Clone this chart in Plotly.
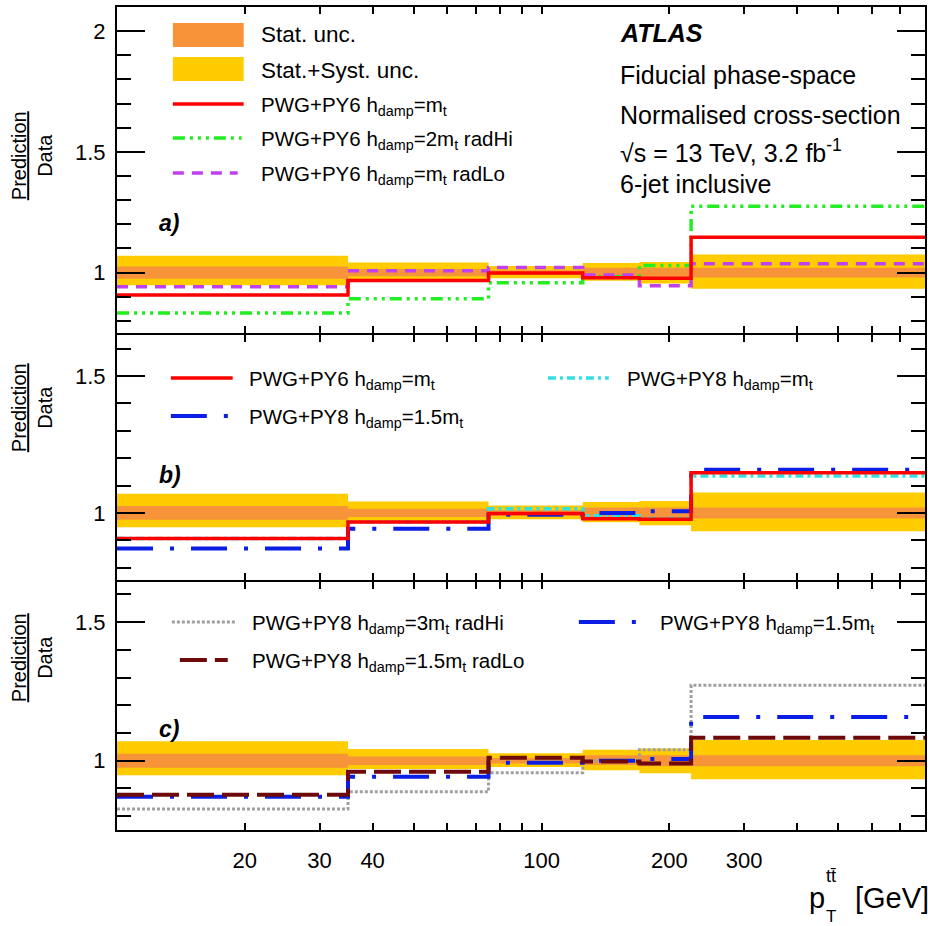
import plotly.graph_objects as go
import math

# ---------------- data ----------------
bin_edges = [10, 35, 75, 125, 170, 225, 800]

stat_lo = [0.975, 0.985, 0.990, 0.985, 0.980, 0.980]
stat_hi = [1.025, 1.015, 1.010, 1.020, 1.020, 1.020]
syst_lo = [0.948, 0.970, 0.977, 0.966, 0.955, 0.933]
syst_hi = [1.070, 1.042, 1.027, 1.040, 1.044, 1.075]

pwg_py6_mt = [0.907, 0.967, 0.998, 0.979, 0.977, 1.147]
pwg_py6_2mt_radhi = [0.833, 0.892, 0.958, 0.983, 1.030, 1.275]
pwg_py6_mt_radlo = [0.942, 1.008, 1.021, 0.990, 0.946, 1.037]
pwg_py8_15mt = [0.870, 0.942, 0.993, 1.000, 1.006, 1.158]
pwg_py8_mt = [0.907, 0.967, 1.015, 0.990, 0.980, 1.135]
pwg_py8_3mt_radhi = [0.826, 0.888, 0.957, 1.000, 1.040, 1.272]
pwg_py8_15mt_radlo = [0.877, 0.960, 1.011, 0.997, 0.990, 1.083]

x_tick_vals = [20, 30, 40, 100, 200, 300]
x_tick_text = ["20", "30", "40", "100", "200", "300"]
x_minor_vals = [50, 60, 70, 80, 90, 400, 500, 600, 700, 800]

# ---------------- styles ----------------
FONT = "Liberation Sans, Arial, Helvetica, sans-serif"
C_STAT = "#F7943A"
C_SYST = "#FFCC00"
RED = "#FF0000"
GREEN = "#22EE22"
PURPLE = "#C040F0"
BLUE = "#0A1EE6"
CYAN = "#33E0E0"
GREY = "#A0A0A0"
DRED = "#6E0A0A"

D_GREEN = "12px,5px,3px,5px,3px,5px,3px,5px"
D_PURPLE = "11px,8px"
D_BLUE = "36px,17px,4px,17px"
D_CYAN = "8px,4px,3px,4px"
D_GREY = "3px,2px"
D_DRED = "27px,8px"

W, H = 928, 926
L, R, T, B = 117, 927, 7, 830

def px(x):
    return (x - L) / (R - L)

def py(y):
    return (B - y) / (B - T)

dom_c = [0, py(582)]
dom_b = [py(580), py(335)]
dom_a = [py(333), 1]

fig = go.Figure()


def step_xy(vals):
    xs = list(bin_edges[:-1]) + [bin_edges[-1]]
    ys = list(vals) + [vals[-1]]
    return xs, ys


def band_poly(lo, hi):
    xs, ys = [], []
    for i in range(len(hi)):
        xs += [bin_edges[i], bin_edges[i + 1]]
        ys += [hi[i], hi[i]]
    for i in reversed(range(len(lo))):
        xs += [bin_edges[i + 1], bin_edges[i]]
        ys += [lo[i], lo[i]]
    return xs, ys


def add_bands(xa, ya):
    for lo, hi, col in ((syst_lo, syst_hi, C_SYST), (stat_lo, stat_hi, C_STAT)):
        bx, by = band_poly(lo, hi)
        fig.add_trace(go.Scatter(x=bx, y=by, fill="toself", fillcolor=col,
                                 line=dict(width=0), mode="lines",
                                 xaxis=xa, yaxis=ya, showlegend=False,
                                 hoverinfo="skip"))


def add_line(vals, color, dash, width, xa, ya):
    sx, sy = step_xy(vals)
    fig.add_trace(go.Scatter(x=sx, y=sy, mode="lines", line_shape="hv",
                             line=dict(color=color, dash=dash, width=width),
                             xaxis=xa, yaxis=ya, showlegend=False))


# panel a
add_bands("x", "y")
add_line(pwg_py6_2mt_radhi, GREEN, D_GREEN, 3.5, "x", "y")
add_line(pwg_py6_mt_radlo, PURPLE, D_PURPLE, 3.5, "x", "y")
add_line(pwg_py6_mt, RED, "solid", 3.5, "x", "y")
# panel b
add_bands("x2", "y2")
add_line(pwg_py8_mt, CYAN, D_CYAN, 3.5, "x2", "y2")
add_line(pwg_py8_15mt, BLUE, D_BLUE, 4, "x2", "y2")
add_line(pwg_py6_mt, RED, "solid", 3.5, "x2", "y2")
# panel c
add_bands("x3", "y3")
add_line(pwg_py8_3mt_radhi, GREY, D_GREY, 3, "x3", "y3")
add_line(pwg_py8_15mt, BLUE, D_BLUE, 4, "x3", "y3")
add_line(pwg_py8_15mt_radlo, DRED, D_DRED, 4, "x3", "y3")

xr = [math.log10(bin_edges[0]), math.log10(bin_edges[-1])]

def xaxis_def(anchor, show_labels):
    return dict(type="log", range=xr, anchor=anchor, domain=[0, 1],
                showline=True, linecolor="black", linewidth=2, mirror="allticks",
                ticks="inside", ticklen=7, tickwidth=1.5, tickcolor="black",
                tickvals=x_tick_vals, ticktext=x_tick_text,
                showticklabels=show_labels, ticklabelstandoff=10,
                tickfont=dict(family=FONT, size=22, color="black"),
                minor=dict(tickvals=x_minor_vals, ticks="inside", ticklen=7,
                           tickwidth=1.5, tickcolor="black", showgrid=False),
                showgrid=False, zeroline=False, fixedrange=True)

def long_tick_axis(over, anchor):
    return dict(type="log", range=xr, overlaying=over, anchor=anchor,
                showline=False, mirror="allticks", ticks="inside", ticklen=13,
                tickwidth=1.5, tickcolor="black", tickvals=[100],
                showticklabels=False, showgrid=False, zeroline=False)

def yaxis_def(rng, dom, anchor, vals, texts):
    minor_vals = [round(0.8 + 0.1 * i, 2) for i in range(14)]
    minor_vals = [v for v in minor_vals if rng[0] < v < rng[1] and v not in vals]
    return dict(range=rng, domain=dom, anchor=anchor,
                showline=True, linecolor="black", linewidth=2, mirror="allticks",
                ticks="inside", ticklen=28, tickwidth=1.5, tickcolor="black",
                tickvals=vals, ticktext=texts, ticklabelstandoff=5,
                tickfont=dict(family=FONT, size=22, color="black"),
                minor=dict(tickvals=minor_vals, ticks="inside", ticklen=14,
                           tickwidth=1.5, tickcolor="black", showgrid=False),
                showgrid=False, zeroline=False, fixedrange=True)

fig.update_layout(
    width=W, height=H,
    margin=dict(l=L, r=W - R, t=T, b=H - B),
    paper_bgcolor="white", plot_bgcolor="white",
    showlegend=False,
    xaxis=xaxis_def("y", False),
    xaxis2=xaxis_def("y2", False),
    xaxis3=xaxis_def("y3", True),
    xaxis4=long_tick_axis("x", "y"),
    xaxis5=long_tick_axis("x2", "y2"),
    xaxis6=long_tick_axis("x3", "y3"),
    yaxis=yaxis_def([0.75, 2.1], dom_a, "x", [1, 1.5, 2], ["1", "1.5", "2"]),
    yaxis2=yaxis_def([0.755, 1.65], dom_b, "x2", [1, 1.5], ["1", "1.5"]),
    yaxis3=yaxis_def([0.75, 1.645], dom_c, "x3", [1, 1.5], ["1", "1.5"]),
)

shapes = []
annots = []

def ann(text, x, y, size=22, xanchor="left", yanchor="middle", **kw):
    annots.append(dict(text=text, x=px(x), y=py(y), xref="paper", yref="paper",
                       xanchor=xanchor, yanchor=yanchor, showarrow=False,
                       font=dict(family=FONT, size=size, color="black"), **kw))

def leg_line(x0, x1, y, color, dash, width=3.5):
    shapes.append(dict(type="line", xref="paper", yref="paper",
                       x0=px(x0), x1=px(x1), y0=py(y), y1=py(y),
                       line=dict(color=color, dash=dash, width=width)))

def leg_rect(x0, x1, y0, y1, color):
    shapes.append(dict(type="rect", xref="paper", yref="paper",
                       x0=px(x0), x1=px(x1), y0=py(y1), y1=py(y0),
                       fillcolor=color, line=dict(width=0)))

HD = "h<sub>damp</sub>"
MT = "m<sub>t</sub>"
LS = 20.5  # legend text size

# panel a legend
leg_rect(173, 244, 23, 47, C_STAT)
ann("Stat. unc.", 259, 35, size=22.5)
leg_rect(173, 244, 57, 81, C_SYST)
ann("Stat.+Syst. unc.", 259, 70, size=22.5)
leg_line(173, 244, 104, RED, "solid")
ann("PWG+PY6 " + HD + "=" + MT, 259, 106, size=LS)
leg_line(173, 242, 138, GREEN, D_GREEN)
ann("PWG+PY6 " + HD + "=2" + MT + " radHi", 259, 140, size=LS)
leg_line(173, 238, 173, PURPLE, D_PURPLE)
ann("PWG+PY6 " + HD + "=" + MT + " radLo", 259, 175, size=LS)

# ATLAS block
ann("<b><i>ATLAS</i></b>", 619, 33, size=25)
ann("Fiducial phase-space", 619, 75, size=25)
ann("Normalised cross-section", 619, 115, size=25)
ann("\u221as = 13 TeV, 3.2 fb<sup>-1</sup>", 619, 151, size=25)
ann("6-jet inclusive", 619, 184, size=25)

# panel labels
ann("<b><i>a)</i></b>", 157, 223, size=23)
ann("<b><i>b)</i></b>", 157, 475, size=23)
ann("<b><i>c)</i></b>", 157, 729, size=23)

# panel b legend
leg_line(171, 233, 378, RED, "solid")
ann("PWG+PY6 " + HD + "=" + MT, 247, 380, size=LS)
leg_line(171, 230, 416, BLUE, D_BLUE, 4)
ann("PWG+PY8 " + HD + "=1.5" + MT, 247, 418, size=LS)
leg_line(549, 610, 378, CYAN, D_CYAN)
ann("PWG+PY8 " + HD + "=" + MT, 626, 380, size=LS)

# panel c legend
leg_line(172, 237, 622, GREY, D_GREY, 3)
ann("PWG+PY8 " + HD + "=3" + MT + " radHi", 250, 624, size=LS)
leg_line(180, 228, 660, DRED, D_DRED, 4)
ann("PWG+PY8 " + HD + "=1.5" + MT + " radLo", 250, 662, size=LS)
leg_line(580, 638, 622, BLUE, D_BLUE, 4)
ann("PWG+PY8 " + HD + "=1.5" + MT, 659, 624, size=LS)

# y titles (fraction)
for yc in (156, 408, 658):
    ann("<u>Prediction</u><br>Data", 32, yc, size=20, xanchor="center",
        textangle=-90)

# x title: p with stacked sub/superscript
ann("p", 809, 898, size=29)
ann("tt\u0304", 826, 876, size=18)
ann("T", 833, 917, size=17, xanchor="center")
ann("[GeV]", 933, 898, size=29, xanchor="right")

fig.update_layout(shapes=shapes, annotations=annots)

fig.write_html("out.html")
